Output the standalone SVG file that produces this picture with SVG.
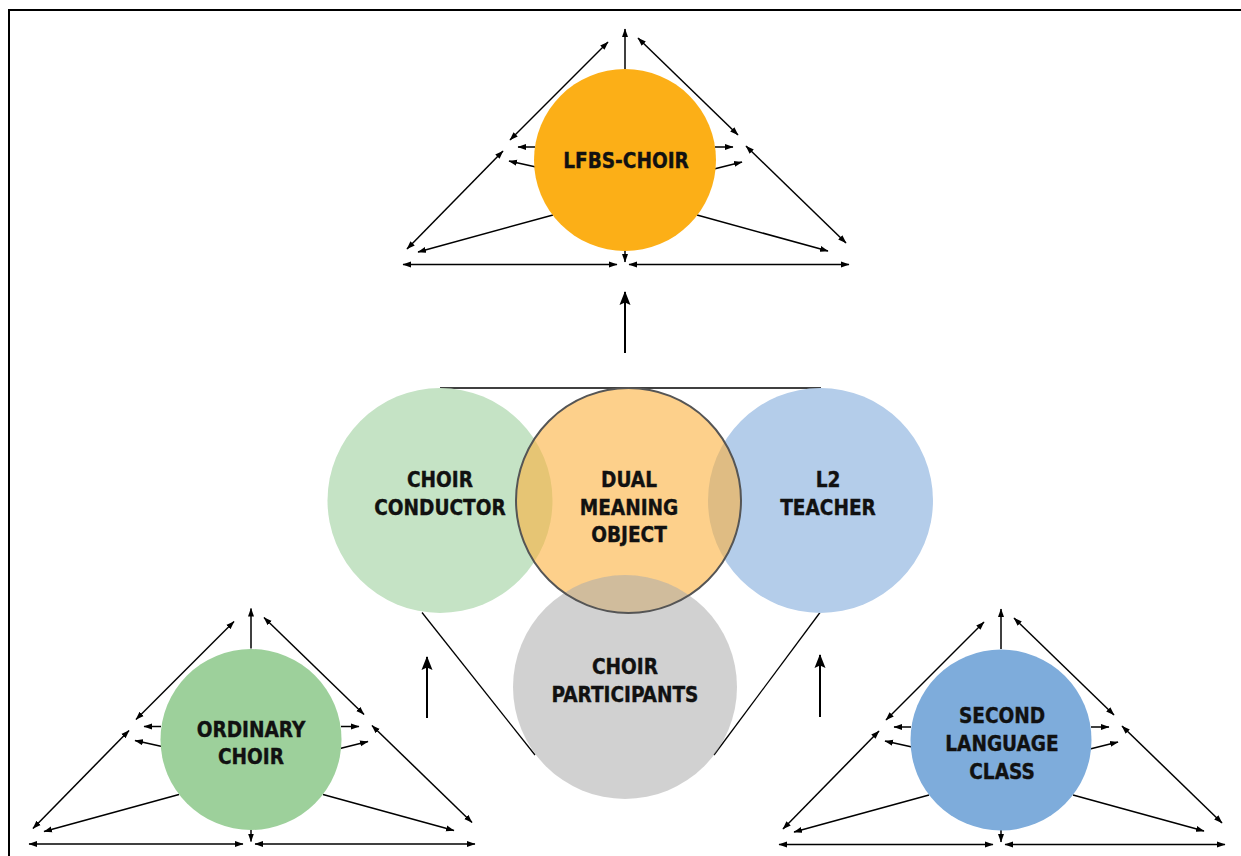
<svg xmlns="http://www.w3.org/2000/svg" xmlns:xlink="http://www.w3.org/1999/xlink" width="1241" height="856" viewBox="0 0 1241 856">
<style>
.lbl{font-family:"DejaVu Sans Condensed","Liberation Sans",Arial,sans-serif;font-stretch:condensed;font-weight:bold;font-size:20.6px;fill:#111;stroke:#111;stroke-width:0.35;text-anchor:middle}
.a{stroke:#000;stroke-width:1.5;fill:none;marker-end:url(#ah)}
.d{stroke:#000;stroke-width:1.5;fill:none;marker-start:url(#ah);marker-end:url(#ah)}
.big{stroke:#000;stroke-width:2;fill:none;marker-end:url(#bh)}
.tl{stroke:#000;stroke-width:1.3;fill:none}
</style>
<defs>
<marker id="ah" markerUnits="userSpaceOnUse" markerWidth="9" markerHeight="7" refX="8" refY="3" orient="auto-start-reverse" viewBox="0 0 9 6">
<path d="M0,0 L8.5,3 L0,6 z" fill="#000"/>
</marker>
<marker id="bh" markerUnits="userSpaceOnUse" markerWidth="15" markerHeight="12" refX="13" refY="5.5" orient="auto" viewBox="0 0 15 11">
<path d="M0,0 L14,5.5 L0,11 L2.5,5.5 z" fill="#000"/>
</marker>
<g id="tri">
<line class="a" x1="0" y1="-91" x2="0" y2="-131"/>
<line class="a" x1="0" y1="90" x2="0" y2="102"/>
<line class="d" x1="-17" y1="-118" x2="-115" y2="-20"/>
<line class="d" x1="13" y1="-122" x2="113" y2="-25"/>
<line class="a" x1="-90" y1="-13" x2="-107" y2="-13"/>
<line class="a" x1="-89" y1="7" x2="-116" y2="1"/>
<line class="a" x1="90" y1="-13" x2="108" y2="-13"/>
<line class="a" x1="89" y1="9" x2="117" y2="2"/>
<line class="d" x1="-122" y1="-9" x2="-218" y2="89"/>
<line class="d" x1="121" y1="-14" x2="221" y2="83"/>
<line class="a" x1="-72" y1="55" x2="-207" y2="92"/>
<line class="a" x1="72" y1="55" x2="203" y2="91"/>
<line class="d" x1="-222" y1="104.5" x2="-8" y2="104.5"/>
<line class="d" x1="4" y1="104.5" x2="224" y2="104.5"/>
</g>
</defs>
<rect width="1241" height="856" fill="#fff"/>
<path d="M9,856 V10 H1241" fill="none" stroke="#000" stroke-width="2"/>

<g id="connectors">
<use xlink:href="#tri" transform="translate(625,160)"/>
<use xlink:href="#tri" transform="translate(251,739.5)"/>
<use xlink:href="#tri" transform="translate(1001,740)"/>
<line class="big" x1="625" y1="353" x2="625" y2="292"/>
<line class="big" x1="427" y1="718" x2="427" y2="657"/>
<line class="big" x1="820" y1="717" x2="820" y2="655"/>
<line class="tl" x1="440" y1="388" x2="821" y2="388" stroke-width="1.8"/>
<line class="tl" x1="422" y1="612.5" x2="535" y2="755"/>
<line class="tl" x1="820" y1="612.5" x2="714" y2="755"/>
</g>

<g id="lfbs-choir">
<circle cx="625" cy="160" r="91" fill="#fcaf17"/>
<text class="lbl" x="626" y="168">LFBS-CHOIR</text>
</g>
<g id="ordinary-choir">
<circle cx="251" cy="739.5" r="90.5" fill="#9dd09b"/>
<text class="lbl" x="251" y="737">ORDINARY</text>
<text class="lbl" x="251" y="764">CHOIR</text>
</g>
<g id="second-language-class">
<circle cx="1001" cy="740" r="90.5" fill="#7eacdb"/>
<text class="lbl" x="1002" y="723">SECOND</text>
<text class="lbl" x="1002" y="751">LANGUAGE</text>
<text class="lbl" x="1002" y="779">CLASS</text>
</g>

<g id="choir-conductor">
<circle cx="440" cy="500.5" r="112.5" fill="#c5e3c5"/>
<text class="lbl" x="440" y="487">CHOIR</text>
<text class="lbl" x="440" y="515">CONDUCTOR</text>
</g>
<g id="l2-teacher">
<circle cx="820.5" cy="500.5" r="112.5" fill="#b4cdea"/>
<text class="lbl" x="828" y="487">L2</text>
<text class="lbl" x="828" y="515">TEACHER</text>
</g>
<g id="dual-meaning-object">
<circle cx="628.5" cy="500.5" r="112.5" fill="#fbb13e" fill-opacity="0.6"/>
<text class="lbl" x="629" y="487">DUAL</text>
<text class="lbl" x="629" y="515">MEANING</text>
<text class="lbl" x="629" y="542">OBJECT</text>
</g>
<g id="choir-participants">
<circle cx="625" cy="687" r="112" fill="#ababab" fill-opacity="0.55"/>
<text class="lbl" x="625" y="674">CHOIR</text>
<text class="lbl" x="625" y="702">PARTICIPANTS</text>
</g>
<g id="dual-meaning-object-outline">
<circle cx="628.5" cy="500.5" r="112.5" fill="none" stroke="#555" stroke-width="2"/>
</g>
</svg>
